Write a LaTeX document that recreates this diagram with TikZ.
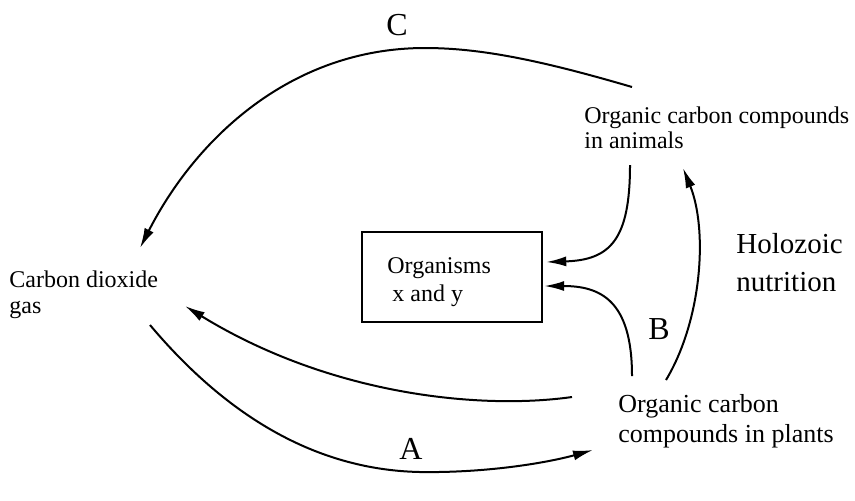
\documentclass[tikz,border=0pt]{standalone}
\usepackage{fontspec}
\setmainfont{Liberation Serif}
\usetikzlibrary{arrows.meta}

\begin{document}
\begin{tikzpicture}[x=0.5pt, y=-0.5pt,
  txt/.style={anchor=north west, inner sep=0pt, align=left},
  lbl/.style={inner sep=0pt, font=\fontsize{16}{18}\selectfont},
  arrow/.style={-{Latex[length=10pt,width=5pt]}, line width=1pt},
  box/.style={draw, line width=1.2pt, minimum width=90pt, minimum height=45pt, inner sep=0pt},
]
\useasboundingbox (0,0) rectangle (855,500);
% --- pools of carbon ---
\node[txt, font=\fontsize{12}{13}\selectfont] (co2) at (9,270.6) {Carbon dioxide\\gas};
\node[txt, font=\fontsize{12}{12.5}\selectfont] (animals) at (584,106.6) {Organic carbon compounds\\in animals};
\node[txt, font=\fontsize{13}{15}\selectfont] (plants) at (618,394.2) {Organic carbon\\compounds in plants};
\node[box] (orgs) at (452,277) {};
\node[txt, font=\fontsize{12}{14}\selectfont] (orgtxt) at (387,256.8) {Organisms\\\hspace*{2.5pt}x and y};
\node[txt, font=\fontsize{14.5}{19}\selectfont] (holo) at (736,233) {Holozoic\\nutrition};
% --- letters ---
\node[lbl] (lc) at (397,25.5) {C};
\node[lbl] (la) at (411,448.5) {A};
\node[lbl] (lb) at (659,329) {B};
% --- free ends ---
\coordinate (anc) at (632,87);
\coordinate (and) at (630,165);
\coordinate (plb) at (632,376);
\coordinate (pla) at (666,380);
\coordinate (plc) at (572,397);
\coordinate (coa) at (150,325);
\coordinate (coc) at (140,248);
\coordinate (cob) at (185,306);
\coordinate (anu) at (683,168);
\coordinate (pli) at (593,450);
% --- arrows ---
\draw[arrow] (anc) .. controls (540,60) and (480,48) .. (425,48)
  .. controls (290,48) and (195,140) .. (coc);
\draw[arrow] (and) .. controls (630,240) and (610,260) .. ([shift={(3,-15)}]orgs.east);
\draw[arrow] (plb) .. controls (632,300) and (600,286) .. ([shift={(1,9)}]orgs.east);
\draw[arrow] (pla) .. controls (702,320) and (708,230) .. (anu);
\draw[arrow] (plc) .. controls (480,410) and (330,395) .. (cob);
\draw[arrow] (coa) .. controls (230,420) and (320,470) .. (420,472)
  .. controls (490,473) and (550,462) .. (pli);
\end{tikzpicture}
\end{document}
